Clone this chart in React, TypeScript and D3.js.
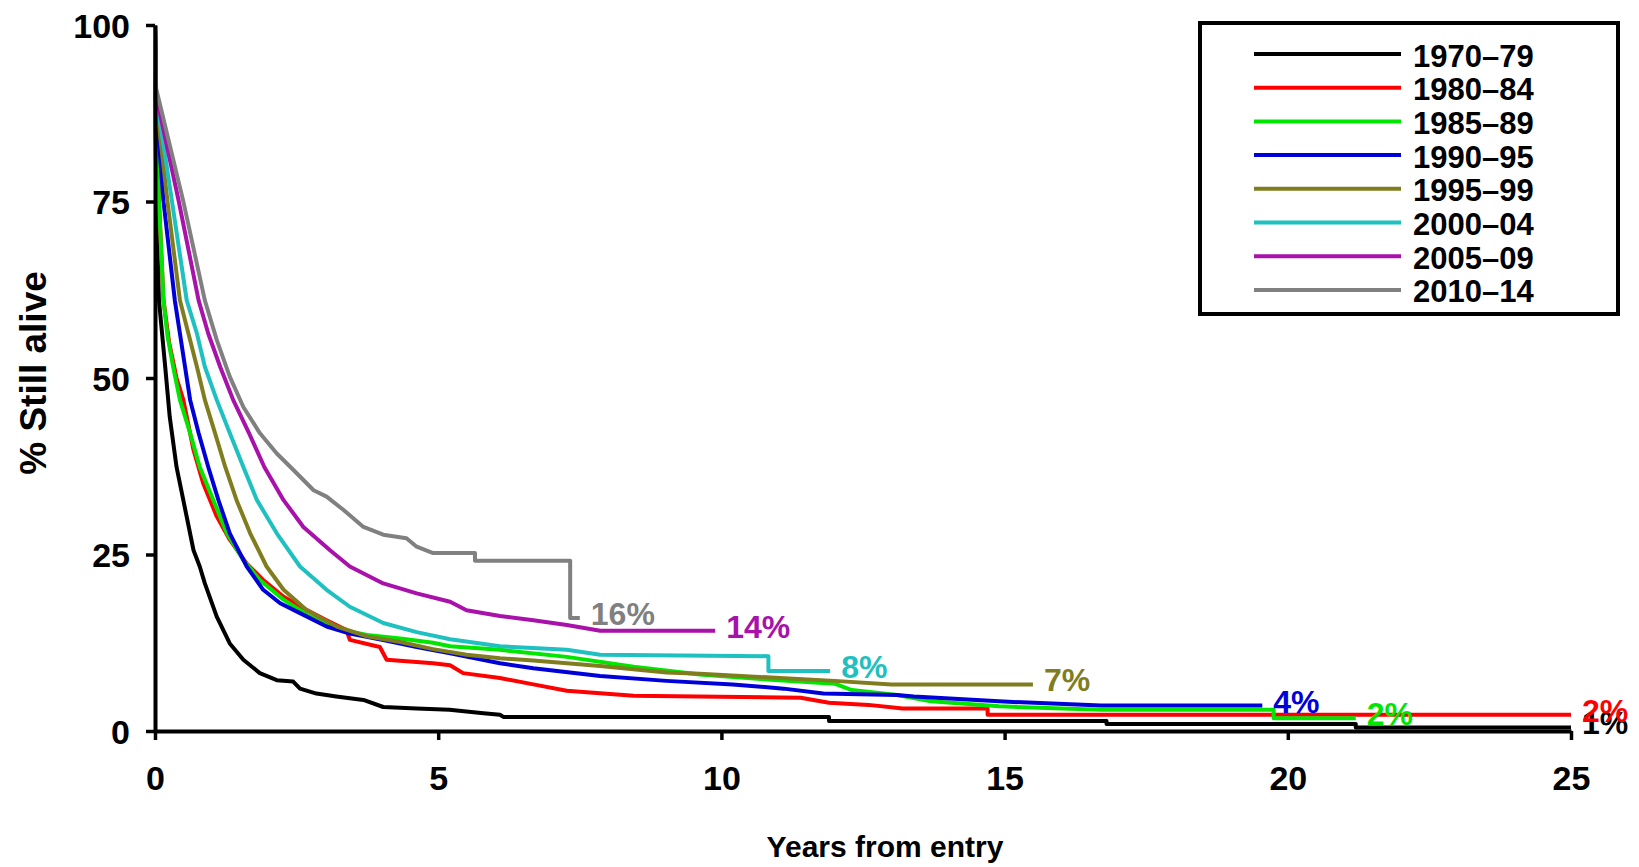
import React, { useEffect, useRef } from "react";
import * as d3 from "d3";

// cohorts in legend order
const cohorts = ["1970–79", "1980–84", "1985–89", "1990–95", "1995–99", "2000–04", "2005–09", "2010–14"];
const endLabels = ["1%", "2%", "2%", "4%", "7%", "8%", "14%", "16%"];
const colors = ["#000000", "#ff0000", "#00e600", "#0000d8", "#7f7d1e", "#1fc0c0", "#a811aa", "#808080"];

// [years from entry, % still alive]
const surv1970 = [[0, 100], [0.01, 85], [0.03, 72], [0.07, 61], [0.18, 51.6], [0.26, 44.5], [0.38, 37.4], [0.5, 32.7], [0.68, 25.6], [0.79, 23.3], [0.88, 20.9], [1.09, 16.2], [1.32, 12.4], [1.56, 10.1], [1.85, 8.2], [2.15, 7.2], [2.44, 7.0], [2.56, 6.0], [2.85, 5.3], [3.2, 4.9], [3.68, 4.4], [4.03, 3.4], [4.62, 3.2], [5.2, 3.0], [5.8, 2.5], [6.09, 2.3], [6.15, 2.0], [11.9, 2.0], [11.9, 1.4], [16.8, 1.4], [16.8, 1.0], [21.2, 1.0], [21.2, 0.5], [25, 0.5]];
const surv1980 = [[0, 100], [0.01, 90], [0.07, 75], [0.15, 61], [0.25, 55], [0.38, 50], [0.5, 46.9], [0.68, 39.8], [0.85, 35.1], [1.09, 30.4], [1.32, 27.1], [1.62, 23.7], [1.91, 21.4], [2.27, 19.0], [2.62, 17.4], [3.03, 15.7], [3.38, 14.3], [3.44, 12.9], [3.97, 11.9], [4.09, 10.1], [4.91, 9.6], [5.21, 9.3], [5.44, 8.2], [6.09, 7.5], [6.68, 6.6], [7.27, 5.7], [8.45, 5.0], [11.4, 4.7], [11.9, 4.0], [12.6, 3.7], [13.2, 3.2], [14.7, 3.2], [14.7, 2.3], [25, 2.3]];
const surv1985 = [[0, 100], [0.01, 90], [0.07, 75], [0.15, 61], [0.22, 56], [0.32, 51.6], [0.44, 46.9], [0.62, 42.2], [0.79, 37.4], [1.03, 32.7], [1.27, 28], [1.56, 24.2], [1.85, 21.4], [2.27, 18.6], [2.74, 16.2], [3.21, 14.5], [3.74, 13.6], [4.33, 13.1], [4.91, 12.5], [5.21, 12.0], [6.09, 11.5], [7.27, 10.5], [8.45, 9.1], [9.62, 8.0], [10.8, 7.3], [12.0, 6.7], [12.3, 5.8], [13.1, 5.1], [13.7, 4.2], [14.9, 3.5], [16.7, 3.0], [19.75, 3.0], [19.75, 1.8], [21.2, 1.8]];
const surv1990 = [[0, 100], [0.01, 90], [0.15, 75], [0.35, 61], [0.44, 56.3], [0.53, 51.6], [0.62, 46.9], [0.77, 42.2], [0.94, 37.4], [1.12, 32.7], [1.32, 28], [1.62, 23.3], [1.91, 20], [2.21, 18.1], [2.56, 16.7], [3.03, 14.8], [3.44, 13.8], [4.03, 12.9], [4.62, 11.9], [5.21, 11.0], [6.09, 9.6], [6.68, 8.9], [7.86, 7.8], [9.03, 7.1], [10.2, 6.6], [11.1, 6.0], [11.8, 5.3], [13.1, 5.1], [13.4, 4.9], [14.9, 4.2], [16.7, 3.6], [19.55, 3.6]];
const surv1995 = [[0, 100], [0.01, 90], [0.22, 75], [0.44, 61], [0.59, 56.3], [0.74, 51.6], [0.88, 46.9], [1.06, 42.2], [1.24, 37.4], [1.44, 32.7], [1.68, 28], [1.97, 23.3], [2.27, 20], [2.68, 17.1], [3.21, 14.8], [3.74, 13.4], [4.33, 12.6], [4.91, 11.6], [5.5, 10.8], [6.09, 10.3], [6.68, 10.0], [7.86, 9.2], [9.03, 8.3], [9.62, 8.1], [10.8, 7.6], [12.0, 7.1], [13.0, 6.6], [15.5, 6.6]];
const surv2000 = [[0, 100], [0.02, 90], [0.3, 75], [0.56, 61], [0.74, 56.3], [0.88, 51.6], [1.09, 46.9], [1.32, 42.2], [1.56, 37.4], [1.8, 32.7], [2.15, 28], [2.56, 23.3], [3.03, 20], [3.44, 17.6], [4.03, 15.3], [4.62, 14.0], [5.21, 13.0], [6.09, 12.0], [7.27, 11.5], [7.86, 10.8], [10.83, 10.6], [10.83, 8.5], [11.92, 8.5]];
const surv2005 = [[0, 100], [0.02, 90], [0.42, 75], [0.77, 61], [0.94, 56.3], [1.15, 51.6], [1.38, 46.9], [1.66, 42.2], [1.93, 37.4], [2.27, 32.7], [2.62, 28.9], [3.09, 25.6], [3.44, 23.3], [4.03, 20.9], [4.62, 19.5], [5.21, 18.3], [5.5, 17.1], [6.09, 16.3], [6.68, 15.7], [7.27, 15.0], [7.86, 14.2], [9.89, 14.2]];
const surv2010 = [[0, 100], [0.02, 91], [0.5, 75], [0.88, 61], [1.09, 55.4], [1.32, 50.2], [1.56, 45.9], [1.85, 42.2], [2.15, 39.3], [2.44, 37.0], [2.8, 34.1], [3.03, 33.2], [3.33, 31.3], [3.68, 28.9], [4.03, 27.8], [4.44, 27.3], [4.62, 26.1], [4.91, 25.2], [5.65, 25.2], [5.65, 24.1], [7.33, 24.1], [7.33, 16.0], [7.5, 16.0]];

const survival = [surv1970, surv1980, surv1985, surv1990, surv1995, surv2000, surv2005, surv2010];

const xTicks = [0, 5, 10, 15, 20, 25];
const yTicks = [0, 25, 50, 75, 100];

const WIDTH = 1639;
const HEIGHT = 867;
const FONT = "'Liberation Sans', Arial, Helvetica, sans-serif";

const App = () => {
  const svgRef = useRef(null);

  useEffect(() => {
    document.body.style.margin = "0";
    const svg = d3.select(svgRef.current);
    svg.selectAll("*").remove();

    const margin = { top: 25, right: 68, bottom: 136, left: 155 };

    const x = d3.scaleLinear().domain([0, 25]).range([margin.left, WIDTH - margin.right]);
    const y = d3.scaleLinear().domain([0, 100]).range([HEIGHT - margin.bottom, margin.top]);

    svg.append("rect").attr("width", WIDTH).attr("height", HEIGHT).attr("fill", "#fff");

    // curves
    const line = d3
      .line()
      .x((d) => x(d[0]))
      .y((d) => y(d[1]));

    survival.forEach((s, i) => {
      svg
        .append("path")
        .datum(s)
        .attr("fill", "none")
        .attr("stroke", colors[i])
        .attr("stroke-width", 4)
        .attr("stroke-linejoin", "round")
        .attr("d", line);
    });

    // axes
    const xAxis = svg
      .append("g")
      .attr("transform", `translate(0,${y(0)})`)
      .call(d3.axisBottom(x).tickValues(xTicks).tickSize(9).tickSizeOuter(0).tickPadding(26));
    const yAxis = svg
      .append("g")
      .attr("transform", `translate(${x(0)},0)`)
      .call(d3.axisLeft(y).tickValues(yTicks).tickSize(9).tickSizeOuter(0).tickPadding(16));

    [xAxis, yAxis].forEach((g) => {
      g.select(".domain").attr("stroke", "#000").attr("stroke-width", 4);
      g.selectAll(".tick line").attr("stroke", "#000").attr("stroke-width", 3.5);
      g.selectAll(".tick text")
        .attr("fill", "#000")
        .style("font-family", FONT)
        .style("font-size", "34px")
        .style("font-weight", "bold");
    });
    yAxis.selectAll(".tick text").attr("dy", "0.36em");

    // end labels
    survival.forEach((s, i) => {
      const last = s[s.length - 1];
      svg
        .append("text")
        .attr("x", x(last[0]) + 11)
        .attr("y", y(last[1]) - 4)
        .attr("dominant-baseline", "central")
        .attr("fill", colors[i])
        .style("font-family", FONT)
        .style("font-size", "32px")
        .style("font-weight", "bold")
        .text(endLabels[i]);
    });

    // axis titles
    svg
      .append("text")
      .attr("x", 885)
      .attr("y", 857)
      .attr("text-anchor", "middle")
      .style("font-family", FONT)
      .style("font-size", "30px")
      .style("font-weight", "bold")
      .text("Years from entry");

    svg
      .append("text")
      .attr("transform", `translate(46,373) rotate(-90)`)
      .attr("text-anchor", "middle")
      .style("font-family", FONT)
      .style("font-size", "37px")
      .style("font-weight", "bold")
      .text("% Still alive");

    // legend
    const legend = svg.append("g").attr("transform", "translate(1200,23)");
    legend
      .append("rect")
      .attr("width", 418)
      .attr("height", 291)
      .attr("fill", "#fff")
      .attr("stroke", "#000")
      .attr("stroke-width", 4);

    cohorts.forEach((c, i) => {
      const ry = 31 + i * 33.7;
      legend
        .append("line")
        .attr("x1", 54)
        .attr("x2", 201)
        .attr("y1", ry)
        .attr("y2", ry)
        .attr("stroke", colors[i])
        .attr("stroke-width", 4);
      legend
        .append("text")
        .attr("x", 213)
        .attr("y", ry + 2)
        .attr("dominant-baseline", "central")
        .style("font-family", FONT)
        .style("font-size", "31px")
        .style("font-weight", "bold")
        .text(c);
    });
  }, []);

  return <svg ref={svgRef} width={WIDTH} height={HEIGHT} style={{ display: "block" }}></svg>;
};

export default App;
